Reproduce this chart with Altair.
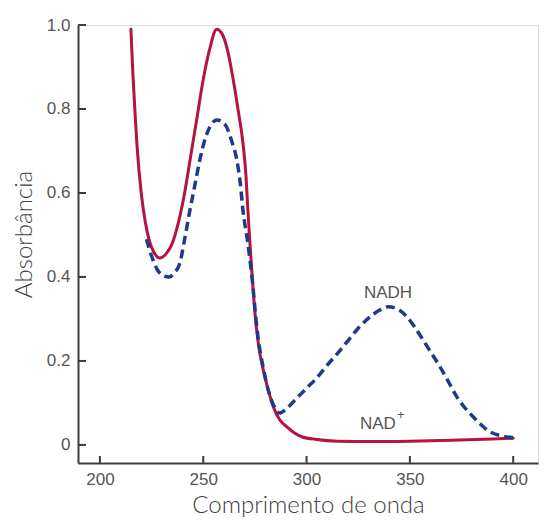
import altair as alt
import pandas as pd

# NAD+ (solid red) spectrum
nad_x = [215, 216, 217, 218, 220, 222, 224, 226, 229, 232, 235, 238, 241, 244, 247, 250, 253, 256.5,
         259, 262, 264.5, 266.8, 269.2, 270.7, 271.6, 272.6, 274, 275.5, 277, 279, 281.5, 284, 287,
         290.5, 294, 298, 305, 315, 330, 350, 370, 390, 400]
nad_y = [0.99, 0.88, 0.79, 0.71, 0.60, 0.53, 0.485, 0.46, 0.445, 0.455, 0.48, 0.53, 0.60, 0.69, 0.78,
         0.87, 0.94, 0.99, 0.98, 0.935, 0.87, 0.80, 0.72, 0.64, 0.56, 0.48, 0.38, 0.29, 0.23, 0.18,
         0.13, 0.09, 0.06, 0.043, 0.029, 0.019, 0.013, 0.009, 0.008, 0.009, 0.011, 0.014, 0.016]

# NADH (dashed blue) spectrum
nadh_x = [222.5, 225, 227.5, 230, 233.5, 236, 238.7, 241, 243.6, 246, 248.4, 251, 253.2, 256.6, 259,
          261.3, 264, 266.2, 268, 269.2, 271.6, 274, 275.5, 277, 279, 281.5, 284, 287, 290, 295, 300,
          305, 310, 315, 320, 325, 330, 335, 339.5, 345, 348.6, 352, 356.4, 360.5, 364.6, 368.7, 372.8,
          376.7, 380.6, 384.7, 388.8, 394, 400]
nadh_y = [0.49, 0.45, 0.42, 0.405, 0.40, 0.41, 0.433, 0.49, 0.56, 0.62, 0.68, 0.73, 0.757, 0.774, 0.77,
          0.757, 0.72, 0.68, 0.62, 0.56, 0.48, 0.38, 0.30, 0.24, 0.185, 0.13, 0.095, 0.076, 0.085, 0.11,
          0.135, 0.16, 0.19, 0.218, 0.248, 0.278, 0.302, 0.32, 0.329, 0.321, 0.305, 0.283, 0.25, 0.218,
          0.186, 0.15, 0.114, 0.088, 0.067, 0.047, 0.031, 0.022, 0.017]

x_ticks = [200, 250, 300, 350, 400]
y_ticks = [0.0, 0.2, 0.4, 0.6, 0.8, 1.0]

labels_text = ["NADH", "NAD", "+"]
labels_x = [339.4, 334.5, 345.6]
labels_y = [0.362, 0.05, 0.072]
labels_size = [17, 17, 13]

W, H = 460, 438
AXIS_COLOR = "#3c3c3c"
LABEL_COLOR = "#555555"

xs = alt.Scale(domain=[189.4, 412], nice=False, zero=False)
ys = alt.Scale(domain=[-0.043, 1.0], nice=False, zero=False)

nad_df = pd.DataFrame({"x": nad_x, "y": nad_y})
nadh_df = pd.DataFrame({"x": nadh_x, "y": nadh_y})
lab_df = pd.DataFrame({"t": labels_text, "x": labels_x, "y": labels_y, "s": labels_size})
xt_df = pd.DataFrame({"v": x_ticks})
yt_df = pd.DataFrame({"v": y_ticks})

x_axis = alt.Axis(values=x_ticks, ticks=False, grid=False, domainColor=AXIS_COLOR, domainWidth=2,
                  labelColor=LABEL_COLOR, labelFont="Liberation Sans", labelFontSize=17, labelPadding=8,
                  title="Comprimento de onda", titleFont="Lato", titleFontSize=24,
                  titleFontWeight=300, titleColor="#404040", titlePadding=6)
y_axis = alt.Axis(values=y_ticks, ticks=False, grid=False, domainColor=AXIS_COLOR, domainWidth=2,
                  labelColor=LABEL_COLOR, labelFont="Liberation Sans", labelFontSize=17, labelPadding=8,
                  labelExpr="datum.value == 0 ? '0' : format(datum.value, '.1f')",
                  title="Absorbância", titleFont="Lato", titleFontSize=24,
                  titleFontWeight=300, titleColor="#404040", titlePadding=10, titleY=209)

red = alt.Chart(nad_df).mark_line(color="#b8123f", strokeWidth=3, interpolate="monotone",
                                  strokeCap="round").encode(
    x=alt.X("x:Q", scale=xs, axis=x_axis),
    y=alt.Y("y:Q", scale=ys, axis=y_axis),
    order="x:Q",
)
blue = alt.Chart(nadh_df).mark_line(color="#1f3a8a", strokeWidth=3.5, strokeDash=[9, 5],
                                    interpolate="monotone").encode(
    x=alt.X("x:Q", scale=xs),
    y=alt.Y("y:Q", scale=ys),
    order="x:Q",
)
xt = alt.Chart(xt_df).mark_rule(color=AXIS_COLOR, strokeWidth=2).encode(
    x=alt.X("v:Q", scale=xs), y=alt.value(H), y2=alt.value(H - 7))
yt = alt.Chart(yt_df).mark_rule(color=AXIS_COLOR, strokeWidth=2).encode(
    y=alt.Y("v:Q", scale=ys), x=alt.value(0), x2=alt.value(8))
labels = alt.Chart(lab_df).mark_text(font="Liberation Sans", color=LABEL_COLOR, baseline="middle",
                                     align="center").encode(
    x=alt.X("x:Q", scale=xs), y=alt.Y("y:Q", scale=ys), text="t:N",
    size=alt.Size("s:Q", scale=None, legend=None))

chart = alt.layer(red, blue, xt, yt, labels).properties(
    width=W, height=H,
    autosize=alt.AutoSizeParams(type="none"),
    padding={"left": 78, "top": 25, "right": 11, "bottom": 59},
).configure_view(stroke=None).configure(background="white")

chart.save("out.html", embed_options={"renderer": "svg", "actions": False})
